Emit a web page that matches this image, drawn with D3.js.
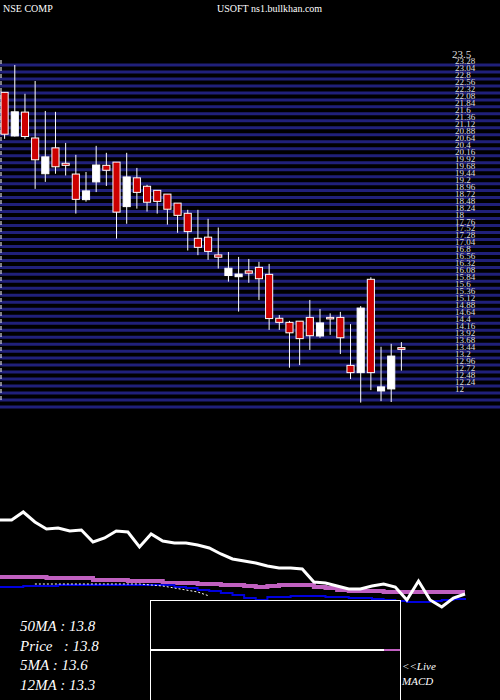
<!DOCTYPE html>
<html><head><meta charset="utf-8">
<script src="https://cdn.jsdelivr.net/npm/d3@7"></script>
<style>body{margin:0;background:#000}svg{display:block}</style>
</head><body><svg id="c" width="500" height="700"></svg>
<script>
const opens  =[22.34,20.84,21.66,20.77,19.54,20.43,19.90,19.53,18.65,19.26,19.83,19.94,18.41,19.40,19.11,18.97,18.84,18.53,18.18,17.32,17.36,16.75,16.04,16.00,16.20,16.32,16.08,14.57,14.43,14.47,14.60,13.96,14.60,14.60,12.95,12.70,15.91,12.07,12.14,13.56];
const closes =[20.90,21.67,20.82,20.02,20.12,19.78,19.83,18.66,18.95,19.84,19.66,18.22,19.43,18.90,18.56,18.59,18.32,18.11,17.55,17.01,16.87,16.67,16.29,16.09,16.12,15.93,14.56,14.43,14.07,13.87,13.97,14.41,14.56,13.90,12.70,14.92,12.70,12.21,13.27,13.50];
const highs  =[22.35,23.28,22.29,22.73,21.70,21.67,20.60,20.19,19.60,20.50,20.26,19.94,20.26,19.74,19.16,18.97,18.84,18.53,18.30,18.30,17.99,17.69,16.85,16.68,16.61,16.51,16.44,14.68,14.48,14.47,15.20,14.89,14.74,14.79,14.37,14.99,15.98,13.59,13.69,13.75];
const lows   =[20.74,20.82,20.74,19.02,19.26,19.54,19.48,18.17,18.58,18.91,19.12,17.31,17.82,18.34,18.24,18.17,17.79,17.51,16.90,16.74,16.58,16.28,15.83,14.80,15.79,15.20,14.17,14.17,12.87,12.96,13.48,13.90,14.00,13.34,12.48,11.67,12.10,11.72,11.69,12.77];
const tickLabels=["23.28","23.04","22.8","22.56","22.32","22.08","21.84","21.6","21.36","21.12","20.88","20.64","20.4","20.16","19.92","19.68","19.44","19.2","18.96","18.72","18.48","18.24","18","17.76","17.52","17.28","17.04","16.8","16.56","16.32","16.08","15.84","15.6","15.36","15.12","14.88","14.64","14.4","14.16","13.92","13.68","13.44","13.2","12.96","12.72","12.48","12.24","12"];
const gridExtra=[11.76,11.52];
const macdLine=[100,100,108,98,91,92,89,90,78,82,89,88,73,86,79,77,77,75,72,66,61,59,57,54,52,52,51,38,37,34,31,31,34,36,33,20,39,20,13,22,26];
const signal1=[43,43,43,43,42,42,42,42,40,40,40,39,39,39,37,37,37,36,36,35,35,34,33,34,35,35,35,33,32,30,29,29,29,28,28,28,28,28,28,28,28];
const signal2=[33,33,34,34,34,35,35,35,35,35,35,35,35,35,35,33,32,30,29,27,25,22,20,23,23,24,24,24,23,23,22,22,21,20,19,18,18,19,20,21,22];
const dotted=[null,null,null,36,36,36,36,36,36,36,36,36,36,35,34,32,30,28,24,null,null,null,null,null,null,null,null,null,null,null,null,null,null,null,null,null,null,null,null,null,null];
const infoLabels=["50MA : 13.8","Price   : 13.8","5MA : 13.6","12MA : 13.3"];

const svg=d3.select("#c");
svg.append("rect").attr("width",500).attr("height",700).attr("fill","#000");
const y=d3.scaleLinear().domain([12,23.28]).range([393,65]);
const x=d3.scaleBand().domain(d3.range(opens.length)).range([-2,408]).padding(0.3);
const gridVals=tickLabels.map(Number).concat(gridExtra);
svg.append("g").selectAll("line").data(gridVals).join("line")
 .attr("x1",0).attr("x2",500).attr("y1",d=>y(d)).attr("y2",d=>y(d))
 .attr("stroke","#20207a").attr("stroke-width",3);
svg.append("g").selectAll("text").data(tickLabels).join("text")
 .attr("x",455).attr("y",d=>y(+d)-1).text(d=>d)
 .attr("fill","#ddd").attr("font-family","Liberation Serif").attr("font-size",9);
svg.append("text").attr("x",452).attr("y",y(23.5)-1).text("23.5").attr("fill","#ddd").attr("font-family","Liberation Serif").attr("font-size",11);
svg.append("line").attr("x1",1).attr("x2",1).attr("y1",60).attr("y2",400).attr("stroke","#fff").attr("stroke-dasharray","4,3");
svg.append("text").attr("x",3).attr("y",12).text("NSE COMP").attr("fill","#fff").attr("font-family","Liberation Serif").attr("font-size",10);
svg.append("text").attr("x",217).attr("y",12).text("USOFT ns1.bullkhan.com").attr("fill","#fff").attr("font-family","Liberation Serif").attr("font-size",10);
const g=svg.append("g");
opens.forEach((o,i)=>{
  const cx=x(i)+x.bandwidth()/2, c=closes[i], up=c>=o;
  g.append("line").attr("x1",cx).attr("x2",cx).attr("y1",y(highs[i])).attr("y2",y(lows[i])).attr("stroke","#fff").attr("stroke-width",1);
  const top=y(Math.max(o,c)), h=Math.max(1.5,Math.abs(y(o)-y(c)));
  g.append("rect").attr("x",x(i)).attr("y",top).attr("width",x.bandwidth()).attr("height",h)
   .attr("fill",up?"#fff":"#cc0000").attr("stroke","#fff").attr("stroke-width",1);
});
const lx=d3.scaleLinear().domain([0,40]).range([0,465]);
const ly=d3.scaleLinear().domain([0,100]).range([620,520]);
svg.append("path").datum(signal1).attr("d",d3.line().x((d,i)=>lx(i)).y(d=>ly(d)).curve(d3.curveStepAfter)).attr("fill","none").attr("stroke","#c060c0").attr("stroke-width",4);
svg.append("path").datum(signal2).attr("d",d3.line().x((d,i)=>lx(i)).y(d=>ly(d)).curve(d3.curveStepAfter)).attr("fill","none").attr("stroke","#0000dd").attr("stroke-width",2);
svg.append("path").datum(dotted).attr("d",d3.line().x((d,i)=>lx(i)).y(d=>ly(d)).defined(d=>d!=null)).attr("fill","none").attr("stroke","#fff").attr("stroke-width",1).attr("stroke-dasharray","2,2");
svg.append("path").datum(macdLine).attr("d",d3.line().x((d,i)=>lx(i)).y(d=>ly(d))).attr("fill","none").attr("stroke","#fff").attr("stroke-width",3);
svg.append("rect").attr("x",150.5).attr("y",600.5).attr("width",250).attr("height",110).attr("fill","#000").attr("stroke","#fff");
svg.append("line").attr("x1",151).attr("x2",384).attr("y1",650).attr("y2",650).attr("stroke","#fff").attr("stroke-width",2);
svg.append("line").attr("x1",384).attr("x2",400).attr("y1",650).attr("y2",650).attr("stroke","#c060c0").attr("stroke-width",2);
svg.append("g").selectAll("text").data(infoLabels).join("text")
 .attr("x",20).attr("y",(d,i)=>631+i*19.7).text(d=>d).style("white-space","pre")
 .attr("fill","#fff").attr("font-family","Liberation Serif").attr("font-style","italic").attr("font-size",15);
svg.append("text").attr("x",402).attr("y",670).text("<<Live").attr("fill","#fff").attr("font-family","Liberation Serif").attr("font-style","italic").attr("font-size",11);
svg.append("text").attr("x",402).attr("y",685).text("MACD").attr("fill","#fff").attr("font-family","Liberation Serif").attr("font-style","italic").attr("font-size",11);
</script></body></html>
